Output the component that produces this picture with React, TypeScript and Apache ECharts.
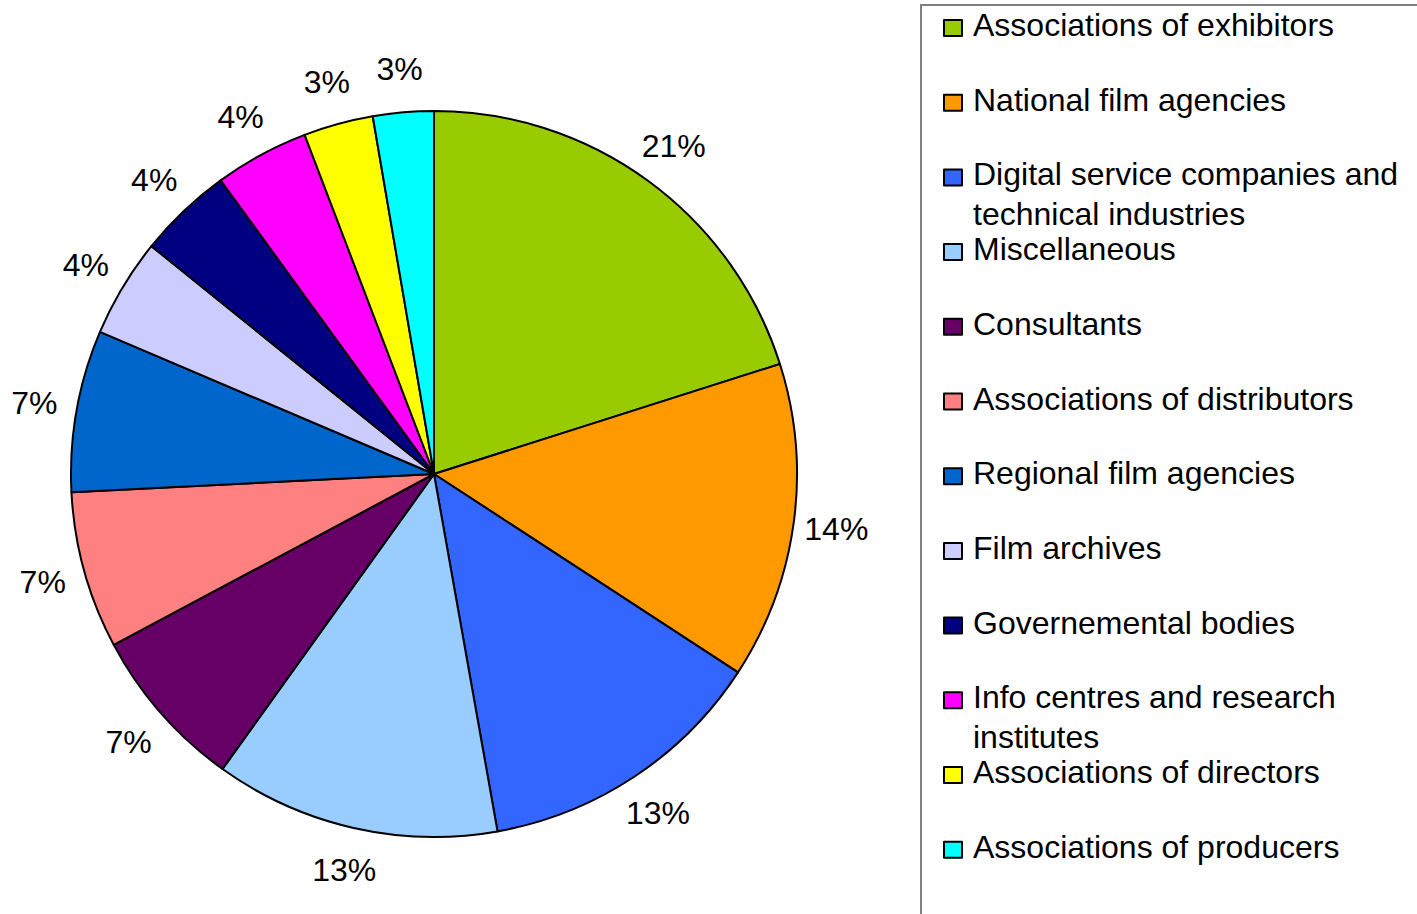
import React, { useEffect, useRef } from "react";
import * as echarts from "echarts";

const categories = [
  "Associations of exhibitors",
  "National film agencies",
  "Digital service companies and technical industries",
  "Miscellaneous",
  "Consultants",
  "Associations of distributors",
  "Regional film agencies",
  "Film archives",
  "Governemental bodies",
  "Info centres and research institutes",
  "Associations of directors",
  "Associations of producers",
];

const legendLabels = [
  "Associations of exhibitors",
  "National film agencies",
  "Digital service companies and\ntechnical industries",
  "Miscellaneous",
  "Consultants",
  "Associations of distributors",
  "Regional film agencies",
  "Film archives",
  "Governemental bodies",
  "Info centres and research\ninstitutes",
  "Associations of directors",
  "Associations of producers",
];

const shares = [20.1, 14.1, 13.0, 12.7, 7.3, 7.0, 7.2, 4.4, 4.2, 4.2, 3.1, 2.7];

const percentLabels = ["21%", "14%", "13%", "13%", "7%", "7%", "7%", "4%", "4%", "4%", "3%", "3%"];

const colors = [
  "#99CC00",
  "#FF9900",
  "#3366FF",
  "#99CCFF",
  "#660066",
  "#FF8080",
  "#0066CC",
  "#CCCCFF",
  "#000080",
  "#FF00FF",
  "#FFFF00",
  "#00FFFF",
];

const FONT = "'Liberation Sans', Arial, sans-serif";

export default function App() {
  const ref = useRef<HTMLDivElement>(null);

  useEffect(() => {
    if (!ref.current) return;
    const chart = echarts.init(ref.current, undefined, { renderer: "svg" });
    const center = [434, 474];
    chart.setOption({
      animation: false,
      backgroundColor: "#ffffff",
      textStyle: { fontFamily: FONT },
      graphic: [
        {
          type: "rect",
          silent: true,
          shape: { x: 921, y: 5, width: 520, height: 960 },
          style: { fill: "none", stroke: "#808080", lineWidth: 2 },
        },
      ],
      legend: {
        type: "plain",
        orient: "vertical",
        left: 943,
        top: 5,
        height: 909,
        padding: 0,
        itemGap: -5.3,
        itemWidth: 18,
        itemHeight: 74.5,
        icon: "path://M0 0M0 12.25L18 12.25L18 28.25L0 28.25ZM18 74.5",
        itemStyle: { borderColor: "#000000", borderWidth: 2 },
        selectedMode: false,
        data: categories,
        formatter: (name: string) => {
          const i = categories.indexOf(name);
          const t = legendLabels[i];
          return t.indexOf("\n") >= 0 ? t : t + "\n";
        },
        textStyle: {
          fontFamily: FONT,
          fontSize: 32,
          color: "#000000",
          lineHeight: 40,
          padding: [0, 0, 0, 6],
        },
      },
      series: [
        {
          type: "pie",
          center,
          radius: 363,
          startAngle: 90,
          clockwise: true,
          silent: true,
          label: { show: false },
          labelLine: { show: false },
          emphasis: { disabled: true },
          itemStyle: { borderColor: "#000000", borderWidth: 2 },
          data: categories.map((name, i) => ({
            name,
            value: shares[i],
            itemStyle: { color: colors[i] },
          })),
        },
        {
          type: "pie",
          center,
          radius: [393, 413],
          startAngle: 90,
          clockwise: true,
          silent: true,
          emphasis: { disabled: true },
          itemStyle: { color: "rgba(0,0,0,0)", borderWidth: 0 },
          labelLine: { show: false },
          label: {
            show: true,
            position: "inside",
            fontFamily: FONT,
            fontSize: 32,
            color: "#000000",
            formatter: (p: any) => percentLabels[p.dataIndex],
          },
          data: shares.map((v) => ({ value: v })),
        },
      ],
    });
    return () => chart.dispose();
  }, []);

  return (
    <div
      ref={ref}
      style={{ position: "fixed", left: 0, top: 0, width: 1417, height: 914, background: "#fff" }}
    />
  );
}
